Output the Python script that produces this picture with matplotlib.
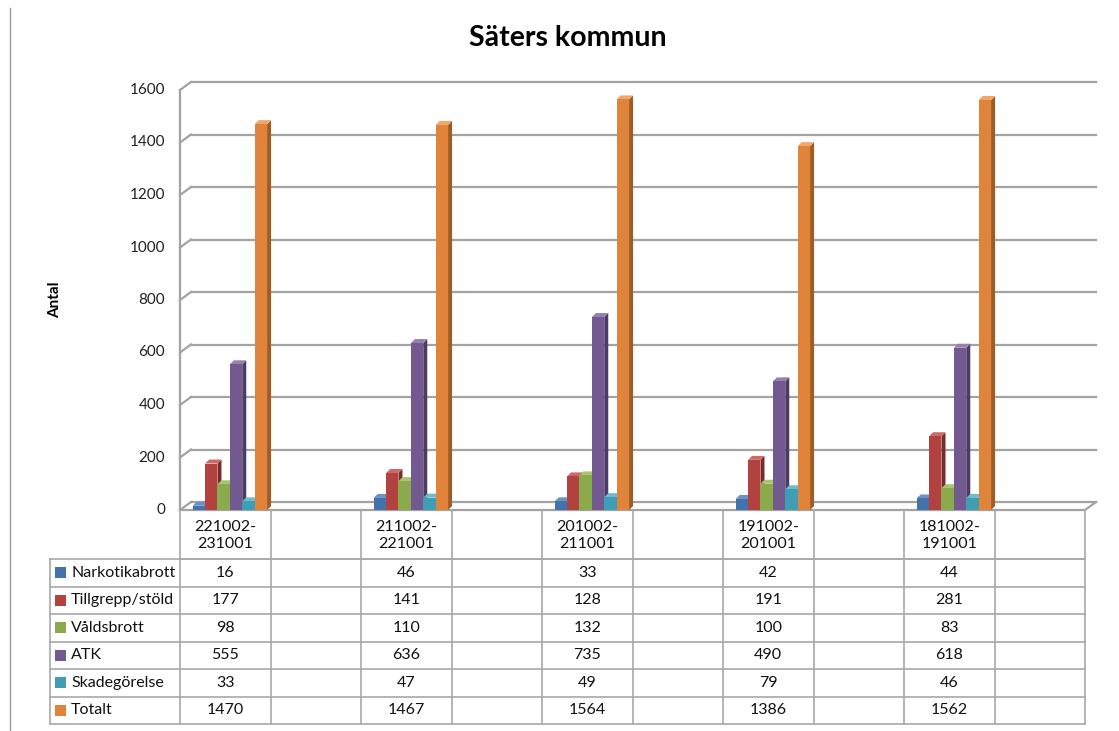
import matplotlib
matplotlib.use("Agg")
import matplotlib.pyplot as plt
from matplotlib.patches import Polygon, Rectangle
from matplotlib.lines import Line2D

# ---------------- data ----------------
periods = ["221002-\n231001", "211002-\n221001", "201002-\n211001", "191002-\n201001", "181002-\n191001"]
series_names = ["Narkotikabrott", "Tillgrepp/stöld", "Våldsbrott", "ATK", "Skadegörelse", "Totalt"]
narkotika = [16, 46, 33, 42, 44]
tillgrepp = [177, 141, 128, 191, 281]
valds = [98, 110, 132, 100, 83]
atk = [555, 636, 735, 490, 618]
skade = [33, 47, 49, 79, 46]
totalt = [1470, 1467, 1564, 1386, 1562]
values = [narkotika, tillgrepp, valds, atk, skade, totalt]
yticks = [0, 200, 400, 600, 800, 1000, 1200, 1400, 1600]
title = "Säters kommun"
ylabel = "Antal"

# ---------------- style ----------------
front = ["#4373AD", "#B1423F", "#8BAA4B", "#725A90", "#3F9EB6", "#E0843B"]
side = ["#2C4E78", "#7A2A28", "#5F7630", "#4C3B63", "#296F80", "#A15C25"]
top = ["#6A93C4", "#CC6A67", "#A9C46F", "#9580AF", "#6DBBD0", "#F0A668"]
GRID = "#a3a3a3"
FONT = ["Lato", "DejaVu Sans"]
plt.rcParams["font.family"] = FONT
FS = 11.5

W, H = 1119, 731
fig = plt.figure(figsize=(W / 100, H / 100), dpi=100)
fig.patch.set_facecolor("white")

# plot area (front plane)
x0p, x1p, y0p, y1p = 180, 1085, 510, 90
ax = fig.add_axes([x0p / W, 1 - y0p / H, (x1p - x0p) / W, (y0p - y1p) / H])
ncat = 2 * len(periods)
ax.set_xlim(-0.5, ncat - 0.5)
ax.set_ylim(0, 1600)
ax.axis("off")

px_x = (ncat) / (x1p - x0p)      # data units per pixel in x
px_y = 1600 / (y0p - y1p)        # data units per pixel in y
DX, DY = 11 * px_x, 8 * px_y     # wall depth
bx, by = 4 * px_x, 4 * px_y      # bar depth

# walls / grid
for t in yticks:
    ax.add_line(Line2D([-0.5 + DX, ncat - 0.5 + DX], [t + DY, t + DY], color=GRID, lw=1.6,
                       clip_on=False, zorder=1))
    ax.add_line(Line2D([-0.5, -0.5 + DX], [t, t + DY], color=GRID, lw=1.6, clip_on=False, zorder=1))
ax.add_line(Line2D([-0.5, -0.5], [0, 1600], color=GRID, lw=1.6, clip_on=False, zorder=1))
# floor
ax.add_line(Line2D([-0.5, ncat - 0.5], [0, 0], color=GRID, lw=1.6, clip_on=False, zorder=1))
ax.add_line(Line2D([ncat - 0.5, ncat - 0.5 + DX], [0, DY], color=GRID, lw=1.6, clip_on=False, zorder=1))

# y tick labels
for t in yticks:
    ax.text(-0.5 - 15 * px_x, t, str(t), ha="right", va="center", fontsize=11, color="#222222")
fig.text(55 / W, 1 - 300 / H, ylabel, rotation=90, ha="center", va="center", fontsize=11,
         fontweight="bold")

# bars
bw = 0.137
start = -0.36
z = 3
for g in range(len(periods)):
    cx = 2 * g
    for i, vals in enumerate(values):
        v = vals[g]
        xl = cx + start + bw * i
        xr = xl + bw
        ax.add_patch(Polygon([(xr, 0), (xr, v), (xr + bx, v + by), (xr + bx, by)],
                             closed=True, facecolor=side[i], edgecolor="none", zorder=z))
        ax.add_patch(Polygon([(xl, v), (xr, v), (xr + bx, v + by), (xl + bx, v + by)],
                             closed=True, facecolor=top[i], edgecolor="none", zorder=z))
        ax.bar(xl + bw / 2, v, width=bw, color=front[i], edgecolor="none", zorder=z + 1)
        z += 2

# title
fig.text(0.507, 1 - 38 / H, title, ha="center", va="center", fontsize=20.5, fontweight="bold")

# left border line
fig.add_artist(Line2D([10 / W, 10 / W], [0, 1 - 8 / H], color="#9a9a9a", lw=1))

# ---------------- data table ----------------
tl, tb, tt = 50, 724, 510
tax = fig.add_axes([tl / W, 1 - tb / H, (x1p - tl) / W, (tb - tt) / H])
xmin = -0.5 - (x0p - tl) * px_x
tax.set_xlim(xmin, ncat - 0.5)
tax.set_ylim(tb - tt, 0)
tax.axis("off")
hdr = 49
rowh = (tb - tt - hdr) / len(series_names)
LC = "#a8a8a8"
# header row lines
tax.add_line(Line2D([-0.5, ncat - 0.5], [hdr, hdr], color=LC, lw=1.2, clip_on=False))
for k in range(ncat + 1):
    tax.add_line(Line2D([k - 0.5, k - 0.5], [0, tb - tt], color=LC, lw=1.2, clip_on=False))
for r in range(len(series_names) + 1):
    yy = hdr + r * rowh
    tax.add_line(Line2D([xmin, ncat - 0.5], [yy, yy], color=LC, lw=1.2, clip_on=False))
tax.add_line(Line2D([xmin, xmin], [hdr, tb - tt], color=LC, lw=1.2, clip_on=False))

for g, p in enumerate(periods):
    tax.text(2 * g, hdr / 2 + 1, p, ha="center", va="center", fontsize=FS, linespacing=1.2,
             color="#111111")
for i, name in enumerate(series_names):
    yc = hdr + (i + 0.5) * rowh
    tax.add_patch(Rectangle((xmin + 5 * px_x, yc - 5.5), 11 * px_x, 11, facecolor=front[i],
                            edgecolor="none"))
    tax.text(xmin + 21 * px_x, yc, name, ha="left", va="center", fontsize=FS, color="#111111")
    for g in range(len(periods)):
        tax.text(2 * g, yc, str(values[i][g]), ha="center", va="center", fontsize=FS,
                 color="#111111")

fig.savefig("out.png", dpi=100)
